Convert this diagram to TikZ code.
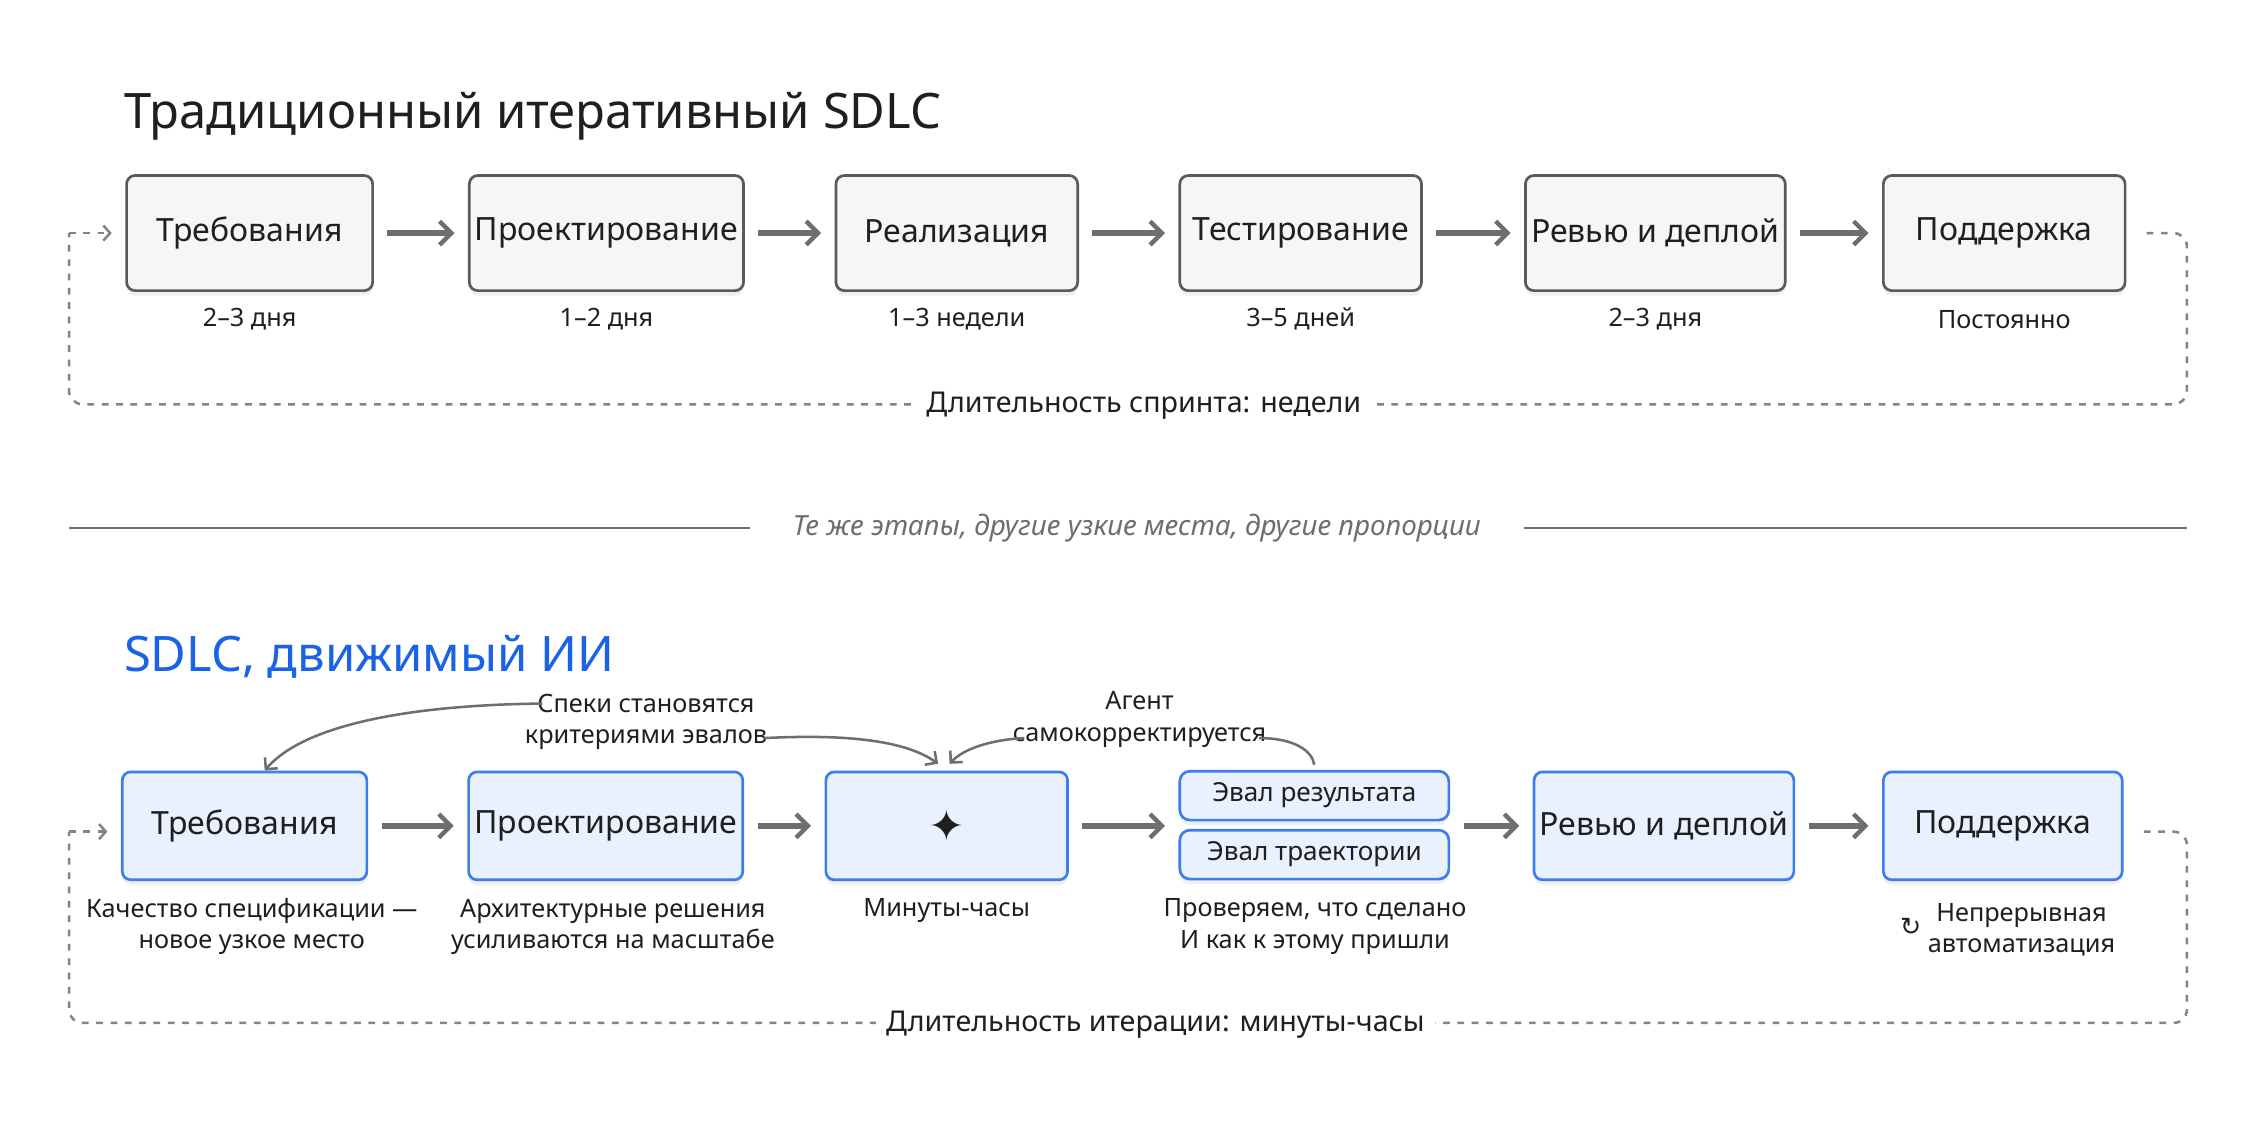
\documentclass[tikz,border=0pt]{standalone}
\usepackage{fontspec}
\setmainfont{Noto Sans}
\usepackage{amssymb}
\newfontfamily\dvs{DejaVu Sans}
\usetikzlibrary{arrows.meta,shadows}
\definecolor{gbord}{HTML}{5A5A5A}
\definecolor{gfill}{HTML}{F6F6F6}
\definecolor{bbord}{HTML}{3D7FEA}
\definecolor{bfill}{HTML}{E9F1FE}
\definecolor{arr}{HTML}{6E6E6E}
\definecolor{ttl}{HTML}{1F1F1F}
\definecolor{blu}{HTML}{1A62E8}
\tikzset{
 x=0.03cm,y=-0.03cm,
 box/.style={draw=gbord,fill=gfill,line width=1.6pt,rounded corners=5pt,font=\fontsize{19}{22}\selectfont,text=ttl,drop shadow={opacity=0.12,shadow xshift=0pt,shadow yshift=-3pt}},
 bbox/.style={draw=bbord,fill=bfill,line width=1.6pt,rounded corners=5pt,font=\fontsize{19}{22}\selectfont,text=ttl,drop shadow={opacity=0.12,shadow xshift=0pt,shadow yshift=-3pt}},
 sub/.style={font=\fontsize{15}{18.5}\selectfont,text=ttl,align=center},
 flow/.style={draw=arr,line width=3.2pt,-{Straight Barb[length=7pt,width=14pt,line width=2.6pt]}},
 loop/.style={draw=arr!85,line width=1.5pt,dash pattern=on 4pt off 4.5pt},
 loopa/.style={loop,-{Straight Barb[length=4pt,width=9pt,line width=1.5pt]}},
 ann/.style={draw=arr,line width=1.5pt,-{Straight Barb[length=5pt,width=10pt,line width=1.5pt]}},
 lbl/.style={font=\bfseries\fontsize{17}{20}\selectfont,text=ttl,fill=white,inner sep=6pt},
}
\begin{document}
\begin{tikzpicture}
\useasboundingbox[fill=white] (0,0) rectangle (1568,790);
% ---------- top
\node[anchor=base west,font=\bfseries\fontsize{29}{34}\selectfont,text=ttl,inner sep=0] (t1) at (86,89) {Традиционный итеративный SDLC};
\node[box,minimum width=171\pgflinewidth/1.6pt*0.03cm/1pt,minimum width=171*0.03cm,minimum height=80*0.03cm] (a1) at (173.5,162) {Требования};
\node[box,minimum width=179*0.03cm,minimum height=80*0.03cm] (a2) at (421.5,162) {Проектирование};
\node[box,minimum width=168*0.03cm,minimum height=80*0.03cm] (a3) at (665,162) {Реализация};
\node[box,minimum width=168*0.03cm,minimum height=80*0.03cm] (a4) at (904,162) {Тестирование};
\node[box,minimum width=177*0.03cm,minimum height=80*0.03cm] (a5) at (1150.5,162) {Ревью и деплой};
\node[box,minimum width=168*0.03cm,minimum height=80*0.03cm] (a6) at (1393,162) {Поддержка};
\foreach \i/\t in {1/2–3 дня,2/1–2 дня,3/1–3 недели,4/3–5 дней,5/2–3 дня,6/Постоянно}
  \node[sub] (s\i) at ([yshift=-60*0.03cm]a\i.center) {\t};
\foreach \i/\j in {1/2,2/3,3/4,4/5,5/6}
  \draw[flow,shorten <=8pt,shorten >=8pt] (a\i) -- (a\j);
\coordinate (l1a) at (1520,162); \coordinate (l1b) at (1520,281);
\coordinate (l1c) at (48,281); \coordinate (l1d) at (48,162);
\draw[loop,rounded corners=8pt] ([xshift=12pt]a6.east) -- (l1a) -- (l1b) -- (l1c) -- (l1d);
\draw[loopa] (l1d) -- ([xshift=-8pt]a1.west);
\node[lbl] (d1) at (795,282) {Длительность спринта: недели};
% ---------- separator
\node[font=\itshape\fontsize{16.5}{20}\selectfont,text=arr] (sep) at (790,367) {Те же этапы, другие узкие места, другие пропорции};
\coordinate (sl) at (48,367); \coordinate (sr) at (1520,367);
\draw[arr,line width=1.5pt] (sl) -- ([xshift=-22pt]sep.west);
\draw[arr,line width=1.5pt] ([xshift=22pt]sep.east) -- (sr);
% ---------- bottom
\node[anchor=base west,font=\bfseries\fontsize{29}{34}\selectfont,text=blu,inner sep=0] (t2) at (86,467) {SDLC, движимый ИИ};
\node[bbox,minimum width=170*0.03cm,minimum height=75*0.03cm] (b1) at (170,574) {Требования};
\node[bbox,minimum width=182*0.03cm,minimum height=75*0.03cm] (b2) at (421,574) {Проектирование};
\node[bbox,minimum width=168*0.03cm,minimum height=75*0.03cm,font=\dvs\fontsize{26}{26}\selectfont] (b3) at (658,574) {✦};
\node[bbox,minimum width=187*0.03cm,minimum height=34*0.03cm,rounded corners=6pt,font=\fontsize{15.5}{18}\selectfont] (e1) at (913.5,553) {Эвал результата};
\node[bbox,minimum width=187*0.03cm,minimum height=34*0.03cm,rounded corners=6pt,font=\fontsize{15.5}{18}\selectfont] (e2) at (913.5,594) {Эвал траектории};
\coordinate (ev) at (913.5,574);
\node[bbox,minimum width=165*0.03cm,minimum height=75*0.03cm] (b5) at (1156.5,574) {Ревью и деплой};
\node[bbox,minimum width=166*0.03cm,minimum height=75*0.03cm] (b6) at (1392,574) {Поддержка};
\draw[flow,shorten <=8pt,shorten >=8pt] (b1) -- (b2);
\draw[flow,shorten <=8pt,shorten >=8pt] (b2) -- (b3);
\draw[flow,shorten <=8pt,shorten >=8pt] (b3.east) -- (b3.east -| e1.west);
\draw[flow,shorten <=8pt,shorten >=8pt] (b5.west -| e1.east) -- (b5.west);
\draw[flow,shorten <=8pt,shorten >=8pt] (b5) -- (b6);
\node[sub] (c1) at (175,644) {Качество спецификации —\\новое узкое место};
\node[sub] (c2) at (426,644) {Архитектурные решения\\усиливаются на масштабе};
\node[sub] (c3) at (658,633) {Минуты-часы};
\node[sub] (c4) at (914,644) {Проверяем, что сделано\\И как к этому пришли};
\node[sub] (c6) at (1405,646) {Непрерывная\\автоматизация};
\node[font=\dvs\fontsize{15}{15}\selectfont,text=ttl] (ic) at (1328,644) {↻};
% annotations
\node[sub] (n1) at (449,502) {Спеки становятся\\критериями эвалов};
\node[sub] (n2) at (792,500) {Агент\\самокорректируется};
\draw[ann] (377,489) .. controls (280,490) and (210,505) .. ([xshift=14*0.03cm]b1.north);
\draw[ann] (531,513) .. controls (590,510) and (630,515) .. ([xshift=-6*0.03cm,yshift=4pt]b3.north);
\draw[ann] (712,513) .. controls (690,514) and (670,520) .. ([xshift=2*0.03cm,yshift=4pt]b3.north);
\draw[arr,line width=1.5pt] (875,513) .. controls (900,513) and (912,522) .. ([yshift=3pt]e1.north);
% loop
\coordinate (l2a) at (1520,578); \coordinate (l2b) at (1520,711);
\coordinate (l2c) at (48,711); \coordinate (l2d) at (48,578);
\draw[loop,rounded corners=8pt] ([xshift=12pt]b6.east |- l2a) -- (l2a) -- (l2b) -- (l2c) -- (l2d);
\draw[loopa] (l2d) -- ([xshift=-8pt]b1.west |- l2d);
\node[lbl] (d2) at (803,712) {Длительность итерации: минуты-часы};
\end{tikzpicture}
\end{document}
